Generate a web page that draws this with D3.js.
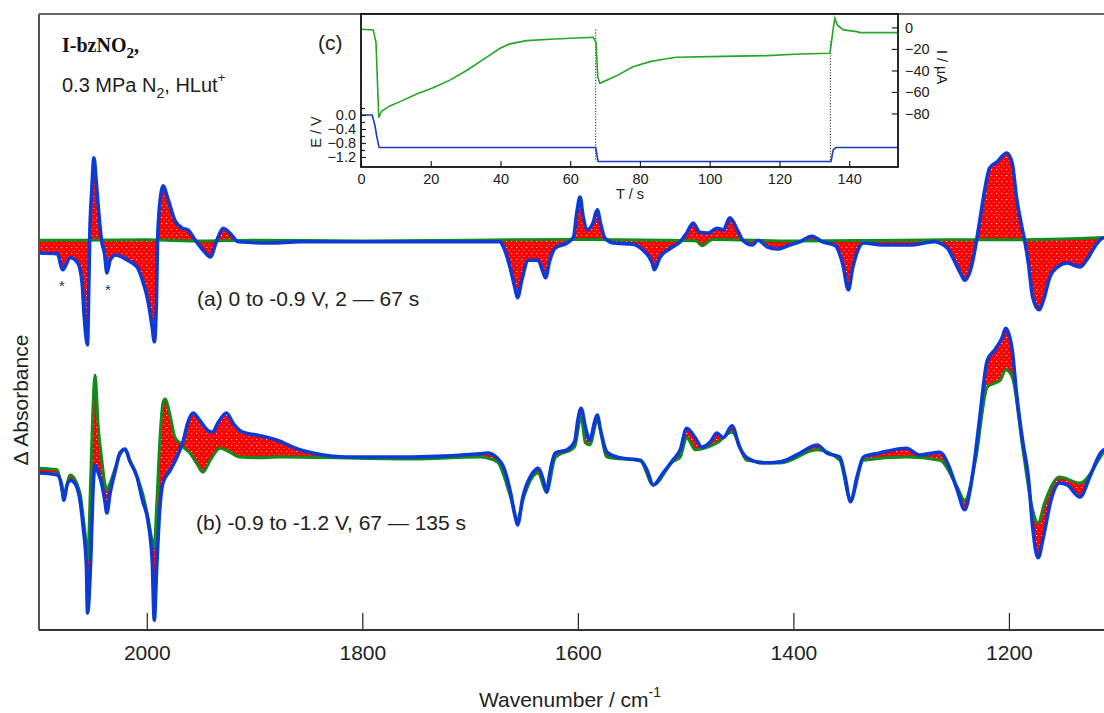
<!DOCTYPE html>
<html><head><meta charset="utf-8">
<script src="https://cdn.jsdelivr.net/npm/d3@7"></script>
<style>body{margin:0;background:#fff}svg{display:block}</style>
</head><body>
<svg id="chart" width="1104" height="713"></svg>
<script>
// ---------------- DATA ----------------
// (a) 0 to -0.9 V : final spectrum (blue) and first spectrum (green)
const aBlueWn = [2100,2083,2078,2071,2064,2060,2058,2055,2054,2053,2051,2049,2047,2045,2042,2039,2037,2034,2029,2018,2009,2004,1999,1995,1993,1991,1990,1987,1985,1980,1974,1967,1962,1955,1948,1941,1935,1929,1923,1915,1886,1858,1765,1672,1669,1663,1658,1656,1652,1646,1637,1632,1630,1626,1621,1610,1604,1601,1598,1595,1591,1586,1582,1579,1575,1567,1549,1540,1531,1529,1524,1514,1505,1499,1493,1487,1479,1471,1465,1459,1452,1447,1438,1433,1424,1415,1403,1394,1383,1373,1361,1354,1349,1345,1340,1335,1317,1292,1270,1257,1252,1245,1241,1234,1230,1227,1222,1218,1211,1202,1197,1193,1188,1185,1182,1178,1172,1168,1162,1155,1146,1134,1128,1118,1112,1100];
const aBlueVal = [-0.30,-0.32,-0.72,-0.42,-0.55,-1.05,-1.90,-2.60,-1.48,0.02,1.28,2.08,1.52,0.85,0.02,-0.35,-0.80,-0.48,-0.35,-0.48,-0.65,-0.98,-1.48,-2.15,-2.52,-1.48,0.02,1.15,1.38,1.02,0.52,0.32,0.28,0.02,-0.22,-0.40,0.02,0.32,0.20,-0.02,-0.05,-0.02,-0.02,-0.02,-0.15,-0.65,-1.22,-1.42,-0.98,-0.48,-0.48,-0.80,-0.92,-0.48,-0.18,-0.05,0.10,0.70,1.10,0.60,0.28,0.45,0.78,0.45,0.08,-0.05,-0.08,-0.22,-0.55,-0.72,-0.42,-0.18,-0.02,0.20,0.45,0.22,0.20,0.32,0.28,0.58,0.28,0.02,-0.10,0.02,-0.15,-0.20,-0.10,-0.02,0.12,-0.02,-0.12,-0.60,-1.22,-0.68,-0.22,-0.05,-0.10,-0.10,-0.02,-0.18,-0.42,-0.80,-0.98,-0.55,0.02,0.52,1.35,1.82,1.98,2.20,1.95,1.10,0.35,-0.05,-0.55,-1.40,-1.72,-1.48,-0.90,-0.65,-0.55,-0.65,-0.48,-0.05,0.08,0.10];
const aGreenWn = [2100,2060,2000,1950,1900,1800,1700,1600,1520,1490,1485,1475,1400,1300,1250,1200,1150,1100];
const aGreenVal = [0.02,0.02,0.03,0.00,0.02,0.00,0.02,0.04,0.02,0.00,-0.12,0.04,0.00,0.02,0.03,0.03,0.05,0.10];

// (b) -0.9 to -1.2 V : blue and green spectra
const bBlueWn = [2100,2083,2079,2077,2074,2071,2067,2062,2059,2056,2055,2052,2050,2048,2045,2042,2039,2037,2034,2029,2025,2020,2016,2009,2004,1999,1995,1993,1991,1988,1985,1978,1972,1966,1962,1957,1951,1944,1939,1934,1926,1920,1911,1898,1879,1858,1846,1814,1753,1691,1684,1675,1669,1663,1658,1656,1651,1642,1637,1632,1629,1626,1621,1610,1603,1600,1597,1593,1589,1584,1582,1579,1573,1561,1542,1536,1530,1521,1512,1505,1499,1491,1485,1477,1471,1465,1457,1450,1443,1428,1412,1397,1378,1369,1357,1352,1347,1341,1335,1320,1295,1283,1264,1257,1248,1241,1236,1231,1227,1220,1213,1206,1203,1197,1193,1187,1182,1178,1173,1168,1161,1153,1146,1134,1125,1115,1112,1100];
const bBlueVal = [-0.20,-0.25,-0.50,-0.88,-0.50,-0.38,-0.45,-0.88,-1.55,-2.55,-3.70,-2.38,-0.70,0.00,-0.20,-0.45,-0.88,-1.20,-0.70,-0.12,0.30,0.40,0.12,-0.30,-0.88,-1.38,-2.38,-3.88,-2.70,-1.12,-0.45,-0.12,0.20,0.62,1.05,1.30,1.12,0.88,0.82,1.05,1.30,1.05,0.82,0.75,0.62,0.38,0.30,0.20,0.20,0.28,0.30,0.18,-0.05,-0.62,-1.30,-1.50,-0.80,-0.20,-0.08,-0.38,-0.68,-0.20,0.30,0.38,0.58,1.12,1.42,0.95,0.62,1.12,1.25,0.88,0.32,0.18,0.12,-0.12,-0.50,-0.20,0.12,0.38,0.92,0.68,0.45,0.58,0.80,0.68,0.98,0.45,0.18,0.05,0.08,0.25,0.50,0.30,0.20,-0.30,-0.92,-0.30,0.20,0.30,0.42,0.25,0.32,0.05,-0.62,-1.12,-0.62,0.30,1.20,2.62,2.88,3.20,3.42,2.88,1.80,0.55,-0.30,-1.55,-2.32,-1.80,-0.88,-0.45,-0.50,-0.80,-0.30,0.30,0.38,0.45];
const bGreenWn = [2100,2083,2077,2071,2062,2059,2056,2055,2052,2050,2048,2045,2042,2039,2037,2034,2029,2025,2020,2016,2009,2004,1999,1995,1993,1991,1988,1985,1983,1978,1974,1969,1965,1960,1954,1948,1941,1932,1923,1914,1898,1876,1753,1691,1675,1663,1656,1651,1637,1629,1621,1603,1597,1593,1589,1582,1573,1542,1530,1512,1505,1499,1491,1471,1457,1443,1412,1378,1357,1347,1335,1295,1264,1248,1241,1231,1220,1208,1203,1197,1187,1178,1173,1167,1153,1134,1115,1112,1100];
const bGreenVal = [-0.08,-0.12,-0.75,-0.25,-0.70,-1.30,-2.05,-2.38,-0.30,1.38,2.25,0.95,0.20,-0.45,-0.62,-0.45,-0.05,0.25,0.38,0.12,-0.30,-0.70,-1.30,-1.88,-2.05,-1.12,0.55,1.55,1.65,1.20,0.70,0.55,0.42,0.30,0.05,-0.18,0.12,0.42,0.32,0.20,0.18,0.20,0.15,0.20,0.08,-0.75,-1.38,-0.88,-0.20,-0.68,0.18,0.45,1.20,0.55,0.50,1.08,0.20,0.10,-0.50,0.08,0.20,0.68,0.38,0.55,0.82,0.12,0.05,0.38,0.12,-0.88,0.12,0.20,0.12,-0.55,-0.88,0.12,1.95,2.12,2.38,2.20,0.38,-1.12,-1.45,-0.95,-0.30,-0.45,0.20,0.32,0.35];
const offsetA = 0, offsetB = -5.6;

// (c) inset: potential and current vs time
const insetTE = [0,3.2,4.0,4.5,5.2,67.3,68.0,134.8,135.4,136.2,154];
const insetE  = [0,0,-0.3,-0.6,-0.93,-0.93,-1.33,-1.33,-1.0,-0.93,-0.93];
const insetTI = [0,3.5,4.3,4.7,5.1,5.9,8.3,11.2,16,20.7,25.5,30.3,35,39.9,42.7,47.5,54.2,66.6,67.4,67.9,68.5,73.3,78,82.9,86.7,90.5,100,116.3,125.9,134.5,135,135.5,135.9,136.6,138.3,142.2,143.1,154];
const insetI  = [-1.7,-2.3,-14,-49,-84,-78,-73,-69,-62,-56,-49,-40,-30,-19.4,-15.3,-12.3,-11,-9.1,-14,-46,-52,-45,-36.5,-31.8,-29.6,-27.7,-27.1,-26.2,-24.7,-24,-11.6,0.8,8.6,2.3,-2.3,-3.9,-4.8,-4.8];
const stepT = [67.3, 134.6];
const stepTopI = [-2, -13];

// tick labels
const xTicks = [2000,1800,1600,1400,1200];
const tTicks = [0,20,40,60,80,100,120,140];
const eTicksMajor = [0,-0.4,-0.8,-1.2];
const eTicksMinor = [0.2,-0.2,-0.6,-1.0];
const iTicks = [0,-20,-40,-60,-80];

// ---------------- DRAW ----------------
const svg = d3.select("#chart");
const L = 39, T = 14, B = 630, R = 1104;
const x = d3.scaleLinear().domain([2100,1100]).range([L, L + 1077.7]);
const y = d3.scaleLinear().domain([-9.725, 5.675]).range([B, T]);

const BLUE = "#0c3ad6", GREEN = "#128a1c", RED = "#ff0000";
const FONT = "'Liberation Sans', Arial, sans-serif";

const defs = svg.append("defs");
defs.append("clipPath").attr("id","plotclip")
  .append("rect").attr("x",L).attr("y",T).attr("width",R-L).attr("height",B-T);
// speckled red (many overlapping dotted spectra)
const pat = defs.append("pattern").attr("id","speck").attr("patternUnits","userSpaceOnUse")
  .attr("width",5).attr("height",6);
pat.append("rect").attr("width",5).attr("height",6).attr("fill",RED);
pat.append("rect").attr("x",1).attr("y",1).attr("width",1.2).attr("height",1).attr("fill","#fff").attr("opacity",0.8);
pat.append("rect").attr("x",3.5).attr("y",4).attr("width",1).attr("height",1).attr("fill","#fff").attr("opacity",0.5);

const zip = (w, v) => w.map((d,i) => [d, v[i]]);
function drawGroup(blueW, blueV, greenW, greenV, off) {
  const g = svg.append("g").attr("clip-path","url(#plotclip)");
  const line = d3.line().x(d => x(d[0])).y(d => y(d[1] + off)).curve(d3.curveMonotoneX);
  const bl = zip(blueW, blueV), gr = zip(greenW, greenV);
  const pBlue = line(bl);
  const pGreen = line(gr);
  const pGreenRev = line(gr.slice().reverse());
  g.append("path").attr("d", pBlue + "L" + pGreenRev.slice(1) + "Z")
    .attr("fill", "url(#speck)").attr("stroke", RED).attr("stroke-width", 1.5);
  g.append("path").attr("d", pGreen).attr("fill","none").attr("stroke",GREEN)
    .attr("stroke-width",3).attr("stroke-linejoin","round");
  g.append("path").attr("d", pBlue).attr("fill","none").attr("stroke",BLUE)
    .attr("stroke-width",3.6).attr("stroke-linejoin","round");
}
drawGroup(aBlueWn, aBlueVal, aGreenWn, aGreenVal, offsetA);
drawGroup(bBlueWn, bBlueVal, bGreenWn, bGreenVal, offsetB);

// frame
svg.append("line").attr("x1",L).attr("x2",R).attr("y1",T).attr("y2",T).attr("stroke","#333").attr("stroke-width",1.5);
svg.append("line").attr("x1",L).attr("x2",L).attr("y1",T).attr("y2",B).attr("stroke","#555").attr("stroke-width",2);

// x axis
const xa = svg.append("g").attr("transform",`translate(0,${B})`)
  .call(d3.axisBottom(x).tickValues(xTicks).tickSize(-17).tickPadding(15).tickFormat(d3.format("d")));
xa.select(".domain").remove();
xa.selectAll("line").attr("stroke","#222").attr("stroke-width",1.2);
xa.selectAll("text").attr("font-family",FONT).attr("font-size",21).attr("fill","#222");
svg.append("line").attr("x1",L).attr("x2",R).attr("y1",B).attr("y2",B).attr("stroke","#333").attr("stroke-width",1.8);

svg.append("text").attr("x",570).attr("y",707).attr("text-anchor","middle")
  .attr("font-family",FONT).attr("font-size",21).attr("fill","#222")
  .text("Wavenumber / cm").append("tspan").attr("dy",-10).attr("font-size",14).text("-1");
svg.append("text").attr("transform","translate(28,400) rotate(-90)").attr("text-anchor","middle")
  .attr("font-family",FONT).attr("font-size",21).attr("fill","#222").text("\u0394 Absorbance");

// annotations
const t1 = svg.append("text").attr("x",62).attr("y",52).attr("font-family","'Liberation Serif','Times New Roman',serif")
  .attr("font-weight","bold").attr("font-size",20).attr("fill","#111");
t1.append("tspan").text("I-bzNO");
t1.append("tspan").attr("dy",6).attr("font-size",15).text("2");
t1.append("tspan").attr("dy",-6).text(",");
const t2 = svg.append("text").attr("x",62).attr("y",92).attr("font-family",FONT).attr("font-size",20).attr("fill","#222");
t2.append("tspan").text("0.3 MPa N");
t2.append("tspan").attr("dy",6).attr("font-size",14).text("2");
t2.append("tspan").attr("dy",-6).text(", HLut");
t2.append("tspan").attr("dy",-10).attr("font-size",13).text("+");

svg.append("text").attr("x",197).attr("y",306).attr("font-family",FONT).attr("font-size",21).attr("fill","#222")
  .text("(a) 0 to -0.9 V, 2 \u2014 67 s");
svg.append("text").attr("x",196).attr("y",530).attr("font-family",FONT).attr("font-size",21).attr("fill","#222")
  .text("(b) -0.9 to -1.2 V, 67 \u2014 135 s");
svg.append("text").attr("x",62).attr("y",291).attr("text-anchor","middle").attr("font-family",FONT).attr("font-size",15).attr("fill","#333").text("*");
svg.append("text").attr("x",108).attr("y",295).attr("text-anchor","middle").attr("font-family",FONT).attr("font-size",15).attr("fill","#333").text("*");

// ---------------- INSET ----------------
const iL = 361, iR = 898, iT = 14, iB = 167;
const tS = d3.scaleLinear().domain([0,154]).range([iL,iR]);
const eS = d3.scaleLinear().domain([-1.486, 2.886]).range([iB,iT]);
const cS = d3.scaleLinear().domain([-129.8, 12.5]).range([iB,iT]);
const ig = svg.append("g");
ig.append("rect").attr("x",iL).attr("y",iT).attr("width",iR-iL).attr("height",iB-iT).attr("fill","#fff");

stepT.forEach((t,k) => {
  ig.append("line").attr("x1",tS(t)).attr("x2",tS(t)).attr("y1",cS(stepTopI[k])).attr("y2",eS(-1.33))
    .attr("stroke","#222").attr("stroke-width",1).attr("stroke-dasharray","1.2,1.6");
});
ig.append("path").attr("d", d3.line().x(d=>tS(d[0])).y(d=>cS(d[1]))(zip(insetTI, insetI)))
  .attr("fill","none").attr("stroke","#25a625").attr("stroke-width",1.6);
ig.append("path").attr("d", d3.line().x(d=>tS(d[0])).y(d=>eS(d[1]))(zip(insetTE, insetE)))
  .attr("fill","none").attr("stroke","#1c3cc0").attr("stroke-width",1.6);

const ta = ig.append("g").attr("transform",`translate(0,${iB})`)
  .call(d3.axisBottom(tS).tickValues(tTicks).tickSize(-6).tickPadding(7));
const ea = ig.append("g").attr("transform",`translate(${iL},0)`)
  .call(d3.axisLeft(eS).tickValues(eTicksMajor).tickSize(-5).tickPadding(5).tickFormat(d3.format(".1f")));
const em = ig.append("g").attr("transform",`translate(${iL},0)`)
  .call(d3.axisLeft(eS).tickValues(eTicksMinor).tickSize(-4).tickFormat(""));
const ca = ig.append("g").attr("transform",`translate(${iR},0)`)
  .call(d3.axisRight(cS).tickValues(iTicks).tickSize(-6).tickPadding(7).tickFormat(d3.format("d")));
[ta,ea,em,ca].forEach(a => {
  a.select(".domain").remove();
  a.selectAll("line").attr("stroke","#222").attr("stroke-width",1.2);
  a.selectAll("text").attr("font-family",FONT).attr("font-size",14.5).attr("fill","#222");
});
ig.append("rect").attr("x",iL).attr("y",iT).attr("width",iR-iL).attr("height",iB-iT)
  .attr("fill","none").attr("stroke","#111").attr("stroke-width",1.8);

ig.append("text").attr("x",630).attr("y",199).attr("text-anchor","middle").attr("font-family",FONT)
  .attr("font-size",14.5).attr("fill","#222").text("T / s");
ig.append("text").attr("transform","translate(321,132) rotate(-90)").attr("text-anchor","middle").attr("font-family",FONT)
  .attr("font-size",14.5).attr("fill","#222").text("E / V");
ig.append("text").attr("transform","translate(937,67) rotate(90)").attr("text-anchor","middle").attr("font-family",FONT)
  .attr("font-size",14.5).attr("fill","#222").text("I / \u00b5A");
ig.append("text").attr("x",318).attr("y",50).attr("font-family",FONT).attr("font-size",21).attr("fill","#222").text("(c)");
</script>
</body></html>
